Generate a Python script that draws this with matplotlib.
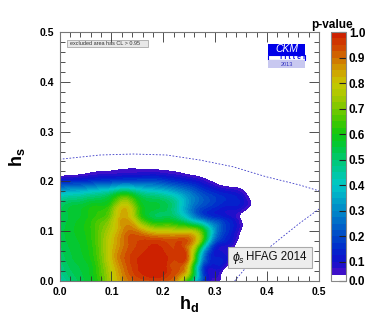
import numpy as np
import matplotlib.pyplot as plt
import matplotlib.tri as mtri
from matplotlib.colors import LinearSegmentedColormap
from matplotlib.patches import Rectangle
from matplotlib.ticker import MultipleLocator

plt.rcParams['font.family'] = ['Liberation Sans', 'DejaVu Sans']
plt.rcParams['mathtext.fontset'] = 'custom'
plt.rcParams['mathtext.rm'] = 'Liberation Sans:bold'
plt.rcParams['mathtext.bf'] = 'Liberation Sans:bold'
plt.rcParams['mathtext.it'] = 'Liberation Sans:italic'

# grid of the scan (h_d columns, h_s rows)
hd = [0.0, 0.025, 0.05, 0.075, 0.1, 0.125, 0.15, 0.175, 0.2, 0.225, 0.25,
      0.275, 0.3, 0.325, 0.35, 0.375, 0.4, 0.425, 0.45, 0.475, 0.5]
hs = [0.0, 0.025, 0.05, 0.075, 0.1, 0.125, 0.15, 0.175, 0.2, 0.225, 0.25]

# p-value, one row per h_s value
pval = [
    [0.42, 0.50, 0.55, 0.62, 0.76, 0.87, 0.93, 0.94, 0.93, 0.86, 0.55, 0.20, 0.05, 0, 0, 0, 0, 0, 0, 0, 0],
    [0.47, 0.53, 0.56, 0.64, 0.78, 0.90, 0.97, 1.00, 0.99, 0.93, 0.74, 0.20, 0.10, 0, 0, 0, 0, 0, 0, 0, 0],
    [0.50, 0.55, 0.58, 0.66, 0.81, 0.92, 0.97, 0.99, 0.99, 0.96, 0.86, 0.32, 0.12, 0.08, 0, 0, 0, 0, 0, 0, 0],
    [0.52, 0.56, 0.59, 0.67, 0.80, 0.90, 0.95, 0.97, 0.96, 0.95, 0.89, 0.56, 0.17, 0.10, 0, 0, 0, 0, 0, 0, 0],
    [0.53, 0.57, 0.60, 0.67, 0.77, 0.88, 0.88, 0.80, 0.78, 0.77, 0.76, 0.62, 0.30, 0.15, 0.04, 0, 0, 0, 0, 0, 0],
    [0.52, 0.56, 0.59, 0.64, 0.72, 0.85, 0.70, 0.56, 0.54, 0.51, 0.38, 0.25, 0.17, 0.12, 0.04, 0, 0, 0, 0, 0, 0],
    [0.50, 0.55, 0.57, 0.60, 0.65, 0.80, 0.64, 0.56, 0.54, 0.45, 0.30, 0.20, 0.15, 0.12, 0.10, 0.02, 0, 0, 0, 0, 0],
    [0.38, 0.40, 0.42, 0.45, 0.50, 0.58, 0.50, 0.45, 0.42, 0.36, 0.28, 0.20, 0.15, 0.12, 0.08, 0, 0, 0, 0, 0, 0],
    [0.12, 0.14, 0.15, 0.17, 0.18, 0.20, 0.20, 0.20, 0.18, 0.15, 0.12, 0.08, 0.03, 0, 0, 0, 0, 0, 0, 0, 0],
    [0, 0, 0.02, 0.035, 0.04, 0.048, 0.048, 0.045, 0.04, 0.03, 0.01, 0, 0, 0, 0, 0, 0, 0, 0, 0, 0],
    [0, 0, 0, 0, 0, 0, 0, 0, 0, 0, 0, 0, 0, 0, 0, 0, 0, 0, 0, 0, 0],
]

# dashed constraint curves
upper_hd = [0.0, 0.078, 0.142, 0.206, 0.27, 0.334, 0.398, 0.4625, 0.5]
upper_hs = [0.2444, 0.253, 0.255, 0.253, 0.243, 0.2295, 0.2094, 0.1928, 0.181]
lower_hd = [0.3375, 0.366, 0.398, 0.43, 0.4625, 0.5]
lower_hs = [0.0, 0.0355, 0.062, 0.089, 0.116, 0.1445]

anchors = [(0.05, '#4B10C8'), (0.1, '#1010CC'), (0.15, '#0028CC'), (0.2, '#0048C8'),
           (0.25, '#0068C8'), (0.3, '#0088C8'), (0.35, '#00A8C8'), (0.4, '#00C8C8'),
           (0.45, '#00C8A0'), (0.5, '#00C870'), (0.55, '#00C840'), (0.6, '#10C810'),
           (0.65, '#40C800'), (0.7, '#78C800'), (0.75, '#A8C800'), (0.8, '#C8C800'),
           (0.85, '#D0A000'), (0.9, '#D07000'), (0.95, '#D04000'), (1.0, '#CC1800')]
cmap = LinearSegmentedColormap.from_list('ckm', [((v - 0.05) / 0.95, c) for v, c in anchors])

levels = [0.0] + list(np.arange(0.05, 1.0001, 0.025))
colors = ['white'] + [cmap((0.5 * (a + b) - 0.05) / 0.95) for a, b in zip(levels[1:-1], levels[2:])]

fig = plt.figure(figsize=(3.75, 3.27), dpi=100)
ax = fig.add_axes([0.1587, 0.1407, 0.692, 0.7614])
cax = fig.add_axes([0.8827, 0.1407, 0.04, 0.7614])

HD, HS = np.meshgrid(hd, hs)
triang = mtri.Triangulation(HD.ravel(), HS.ravel())
tri_fine, p_fine = mtri.UniformTriRefiner(triang).refine_field(np.ravel(pval), subdiv=3)
p_fine = np.clip(p_fine, 0.0, 1.0)
cs = ax.tricontourf(tri_fine, p_fine, levels=levels, colors=colors)
cs.set_edgecolor('face')
cs.set_linewidth(0.3)

ax.plot(upper_hd, upper_hs, ls=(0, (2, 2)), color='#3A3AC8', lw=0.6)
ax.plot(lower_hd, lower_hs, ls=(0, (2, 2)), color='#3A3AC8', lw=0.6)

ax.set_xlim(0, 0.5)
ax.set_ylim(0, 0.5)
ax.xaxis.set_minor_locator(MultipleLocator(0.02))
ax.yaxis.set_minor_locator(MultipleLocator(0.02))
ax.tick_params(which='both', direction='in', top=True, right=True, color='#333333', width=0.6)
ax.tick_params(which='major', length=7, labelsize=7.5, pad=4)
ax.tick_params(which='minor', length=3.5)
ax.set_xticks([0, 0.1, 0.2, 0.3, 0.4, 0.5])
ax.set_xticklabels(['0.0', '0.1', '0.2', '0.3', '0.4', '0.5'], fontweight='bold')
ax.set_yticks([0, 0.1, 0.2, 0.3, 0.4, 0.5])
ax.set_yticklabels(['0.0', '0.1', '0.2', '0.3', '0.4', '0.5'], fontweight='bold')
for sp in ax.spines.values():
    sp.set_color('#777777')
    sp.set_linewidth(0.8)

fig.text(0.505, 0.07, r'$\mathbf{h_d}$', fontsize=13, ha='center', va='center')
fig.text(0.045, 0.52, r'$\mathbf{h_s}$', fontsize=13, ha='center', va='center', rotation=90)

# legend box
ax.add_patch(Rectangle((0.029, 0.94), 0.312, 0.028, transform=ax.transAxes,
                       facecolor='#E8E8E8', edgecolor='#999999', lw=0.5))
ax.text(0.04, 0.954, 'excluded area has CL > 0.95', transform=ax.transAxes,
        fontsize=4, va='center', ha='left', color='#333333')

# CKM fitter logo
ax.add_patch(Rectangle((0.805, 0.9076), 0.142, 0.044, transform=ax.transAxes,
                       facecolor='#0000E8', edgecolor='none'))
ax.text(0.876, 0.93, 'CKM', transform=ax.transAxes, color='white', fontsize=7.5,
        style='italic', ha='center', va='center')
ax.add_patch(Rectangle((0.805, 0.8876), 0.142, 0.02, transform=ax.transAxes,
                       facecolor='white', edgecolor='#0000E8', lw=0.8))
ax.text(0.9, 0.8976, 'f i t t e r', transform=ax.transAxes, color='#0000E8', fontsize=5,
        fontweight='bold', ha='center', va='center')
ax.add_patch(Rectangle((0.805, 0.8554), 0.142, 0.031, transform=ax.transAxes,
                       facecolor='#C8C8F0', edgecolor='none'))
ax.text(0.876, 0.871, '2013', transform=ax.transAxes, color='#3030C0', fontsize=4,
        ha='center', va='center')

# HFAG box
ax.add_patch(Rectangle((0.649, 0.052), 0.324, 0.085, transform=ax.transAxes,
                       facecolor='#EDEDED', edgecolor='#AAAAAA', lw=0.8, zorder=5))
ax.text(0.665, 0.094, r'$\phi_s$', transform=ax.transAxes, fontsize=9,
        ha='left', va='center', zorder=6, color='#111111')
ax.text(0.72, 0.096, 'HFAG 2014', transform=ax.transAxes, fontsize=8.3,
        ha='left', va='center', zorder=6, color='#111111')

cb = fig.colorbar(cs, cax=cax, ticks=[0, 0.1, 0.2, 0.3, 0.4, 0.5, 0.6, 0.7, 0.8, 0.9, 1.0])
cb.ax.set_yticklabels(['0.0', '0.1', '0.2', '0.3', '0.4', '0.5', '0.6', '0.7', '0.8', '0.9', '1.0'],
                      fontweight='bold')
cax.tick_params(direction='in', length=5, width=0.8, labelsize=8.5, pad=2, color='#222222')
cb.outline.set_edgecolor('#888888')
cb.outline.set_linewidth(0.8)
fig.text(0.885, 0.925, 'p-value', fontsize=8.5, fontweight='bold', ha='center', va='center')

fig.savefig('out.png', dpi=100)
